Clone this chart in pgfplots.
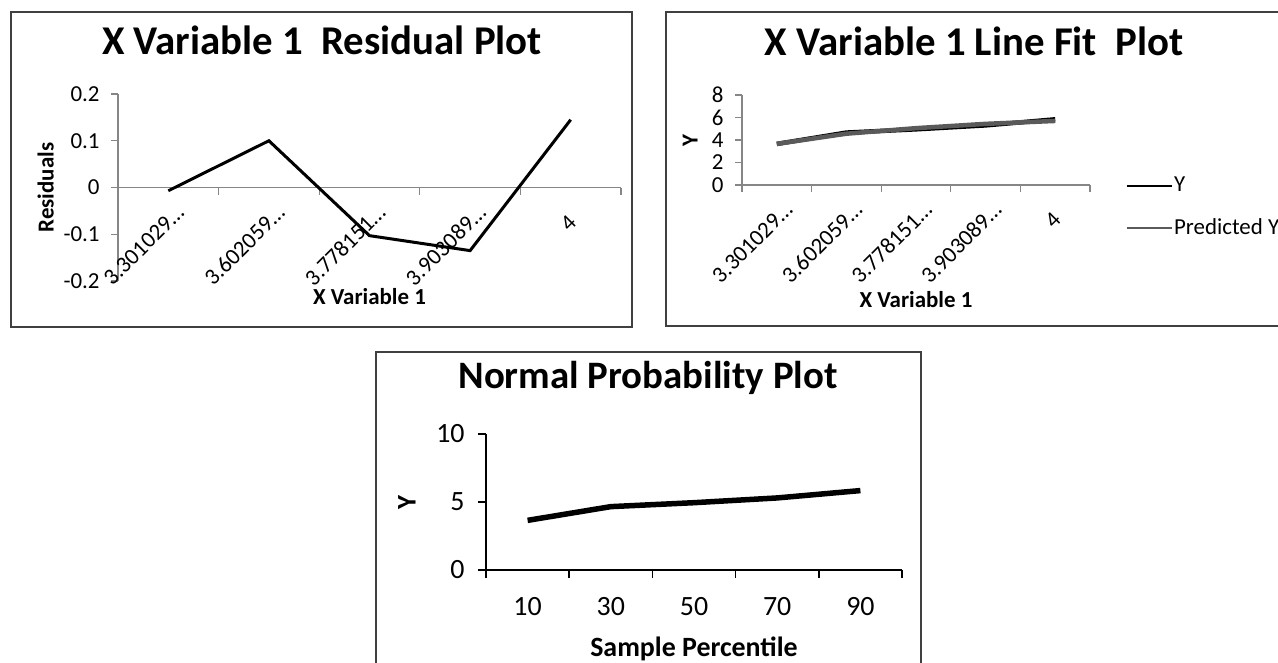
\documentclass[border=0pt]{standalone}
\usepackage{fontspec}
\setmainfont{Carlito}
\usepackage{pgfplots}
\pgfplotsset{compat=1.18}

\definecolor{axgray}{RGB}{134,134,134}
\definecolor{framegray}{RGB}{64,64,64}
\definecolor{predgray}{RGB}{90,90,90}
\newcommand{\fs}[1]{\fontsize{#1}{#1}\selectfont}

% one px of the reference = 0.5bp, y grows downwards as negative
\pgfplotsset{
  panel/.style={
    scale only axis, anchor=south west, clip=false,
    /pgf/number format/assume math mode=true,
    xmin=0.5, xmax=5.5, xtick={1,...,5},
    minor xtick={0.5,1.5,...,5.5},
    major x tick style={draw=none},
    major tick length=3.5bp, minor tick length=3.5bp,
    every tick/.style={axgray, line width=0.6bp},
    axis line style={axgray, line width=0.6bp},
  },
  rotlabels/.style={
    xticklabels={3.301029…,3.602059…,3.778151…,3.903089…,4\hphantom{0}\kern0.12em},
    xticklabel style={font=\fs{11.5}, inner sep=0pt, anchor=east, xshift=6bp, yshift=-7bp, rotate=45},
    yticklabel style={font=\fs{11.5}, inner sep=0pt, xshift=-5.5bp},
  },
}

\begin{document}
\begin{tikzpicture}
\useasboundingbox (0,0) rectangle (639bp,-331.5bp);
\clip (0,0) rectangle (639bp,-331.5bp);

% frames and titles
\draw[framegray, line width=0.75bp] (5.5bp,-6bp) rectangle (316bp,-163.5bp);
\draw[framegray, line width=0.75bp] (333bp,-6bp) rectangle (641.5bp,-163bp);
\draw[framegray, line width=0.75bp] (188bp,-176bp) rectangle (460.5bp,-340bp);
\node[font=\fs{20.5}\bfseries, anchor=base] at (161bp,-27bp) {X Variable 1~~Residual Plot};
\node[font=\fs{20.5}\bfseries, anchor=base] at (487bp,-27.5bp) {X Variable 1 Line Fit~~Plot};
\node[font=\fs{19.5}\bfseries, anchor=base] at (324bp,-194bp) {Normal Probability Plot};

% residual plot
\begin{axis}[panel, rotlabels,
  at={(59bp,-140.5bp)}, width=251.5bp, height=93.5bp,
  axis x line*=middle, axis y line*=left, tick align=outside,
  ymin=-0.2, ymax=0.2, ytick={-0.2,-0.1,0,0.1,0.2},
  yticklabels={-0.2,-0.1,0,0.1,0.2},
  xlabel={\textbf{X Variable 1}}, ylabel={\textbf{Residuals}},
  xlabel style={at={(axis description cs:0.5,-0.0856)}, anchor=center, font=\fs{11.5}},
  ylabel style={at={(axis description cs:-0.144,0.5)}, anchor=center, font=\fs{11.5}},
]
\addplot[black, line width=1.5bp] coordinates {(1,-0.007) (2,0.100) (3,-0.103) (4,-0.135) (5,0.145)};
\end{axis}

% line fit plot
\begin{axis}[panel, rotlabels,
  at={(371bp,-92.5bp)}, width=174bp, height=45bp,
  axis x line*=bottom, axis y line*=left, tick align=outside,
  ymin=0, ymax=8, ytick={0,2,...,8},
  xlabel={\textbf{X Variable 1}}, ylabel={\textbf{Y}},
  xlabel style={at={(axis description cs:0.5,-1.278)}, anchor=center, font=\fs{11.5}},
  ylabel style={at={(axis description cs:-0.149,0.5)}, anchor=center, font=\fs{11.5}},
  legend style={at={(axis description cs:1.1006,0.11)}, anchor=north west, draw=none, fill=none,
    font=\fs{11.5}, row sep=10.5bp, inner sep=0pt, nodes={inner sep=0.75bp}},
  legend cell align=left,
  legend image code/.code={\draw[#1, line width=1.1bp] (0bp,0bp) -- (22.5bp,0bp);},
]
\addplot[black, line width=2.25bp] coordinates {(1,3.65) (2,4.66) (3,4.95) (4,5.30) (5,5.84)};
\addlegendentry{Y}
\addplot[predgray, line width=2.25bp] coordinates {(1,3.657) (2,4.56) (3,5.053) (4,5.435) (5,5.695)};
\addlegendentry{Predicted Y}
\end{axis}

% normal probability plot
\begin{axis}[panel,
  at={(243bp,-285bp)}, width=208bp, height=68bp,
  axis x line*=bottom, axis y line*=left, tick align=outside,
  every tick/.style={black, line width=0.75bp},
  axis line style={black, line width=0.75bp},
  major tick length=4bp, minor tick length=4bp,
  ymin=0, ymax=10, ytick={0,5,10},
  xticklabels={10,30,50,70,90},
  xticklabel style={font=\fs{14}, inner sep=0pt, anchor=north, yshift=-9.5bp},
  yticklabel style={font=\fs{14}, inner sep=0pt, xshift=-6.5bp},
  xlabel={\textbf{Sample Percentile}}, ylabel={\textbf{Y}},
  xlabel style={at={(axis description cs:0.5,-0.581)}, anchor=center, font=\fs{14}},
  ylabel style={at={(axis description cs:-0.19,0.5)}, anchor=center, font=\fs{13.5}},
]
\addplot[black, line width=2.75bp] coordinates {(1,3.65) (2,4.66) (3,4.95) (4,5.30) (5,5.84)};
\end{axis}
\end{tikzpicture}
\end{document}
